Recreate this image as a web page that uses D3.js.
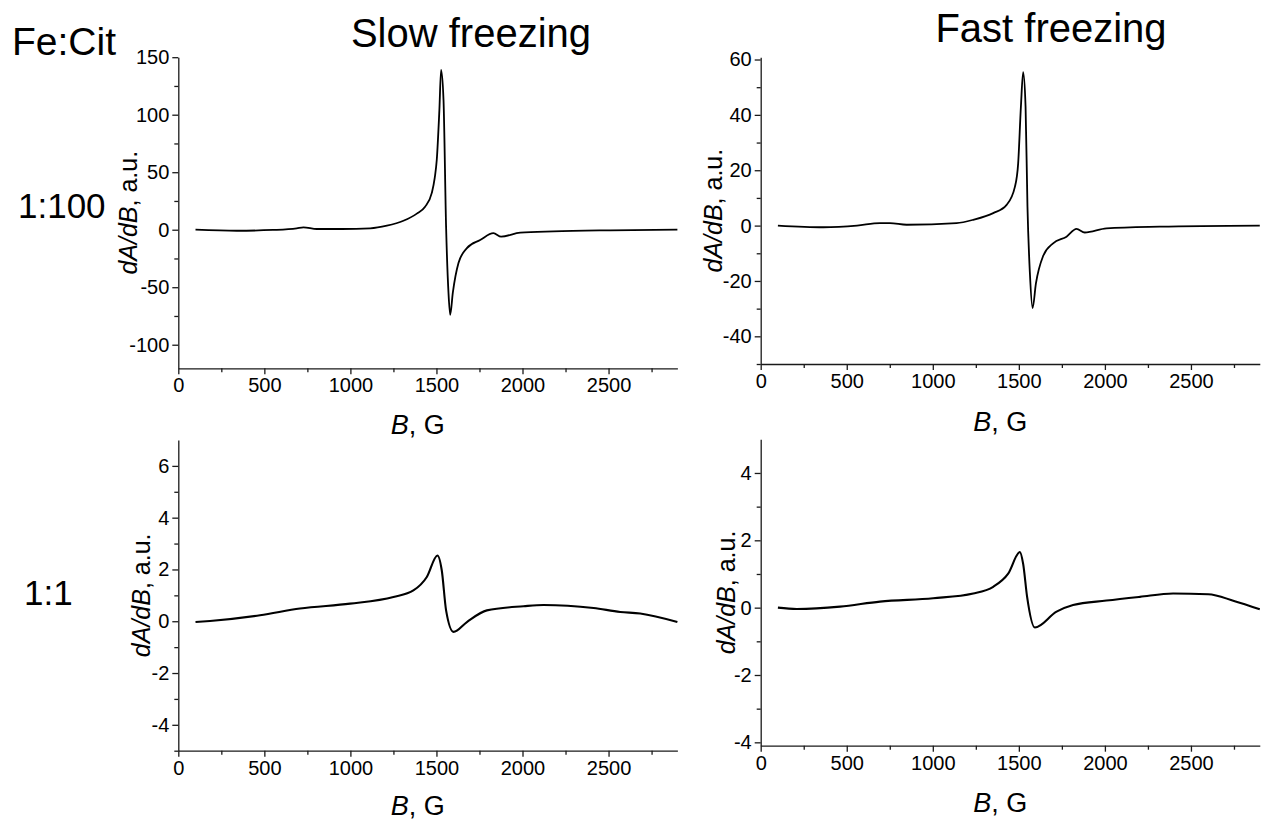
<!DOCTYPE html>
<html>
<head>
<meta charset="utf-8">
<script src="https://cdn.jsdelivr.net/npm/d3@7"></script>
<style>
  body { margin: 0; background: #fff; }
  text { font-family: "Liberation Sans", Arial, sans-serif; fill: #000; }
</style>
</head>
<body>
<script>
// EPR spectra, Fe:Cit, [B (G), dA/dB (a.u.)]
var slow100 = [
  [100, 0], [340, -0.9], [550, -0.2], [688, 1.2], [727, 2.1], [805, 0.6], [950, 0.6], [1115, 1.2],
  [1212, 3.5], [1308, 7.8], [1386, 14], [1434, 20], [1473, 32], [1490, 45], [1502, 61],
  [1517, 104], [1527, 139], [1541, 113], [1556, 2.6], [1570, -55], [1580, -74],
  [1595, -55], [1628, -29], [1677, -16], [1754, -9], [1831, -3], [1876, -6],
  [1987, -2.6], [2180, -1.4], [2510, -0.5], [2900, 0]
];
var fast100 = [
  [100, 0], [364, -0.6], [560, 0], [693, 0.9], [751, 0.9], [848, 0.3], [1138, 0.9],
  [1235, 2.1], [1351, 4.5], [1429, 7.5], [1477, 14], [1496, 22.5], [1512, 43],
  [1525, 55.4], [1539, 43], [1550, 7], [1564, -17], [1580, -29.8], [1599, -21],
  [1641, -11], [1699, -6.4], [1777, -4], [1835, -1.2], [1883, -2.5], [2009, -1],
  [2319, -0.4], [2900, 0]
];
var slow1 = [
  [100, -0.03], [184, 0.01], [475, 0.23], [707, 0.49], [998, 0.68], [1250, 0.94],
  [1366, 1.19], [1444, 1.71], [1506, 2.54], [1531, 1.96], [1556, 0.42], [1599, -0.41],
  [1677, -0.03], [1793, 0.42], [2006, 0.58], [2122, 0.63], [2413, 0.51], [2568, 0.36],
  [2684, 0.3], [2900, -0.03]
];
var fast1 = [
  [100, 0], [209, -0.04], [461, 0.03], [693, 0.18], [1002, 0.28], [1235, 0.42],
  [1351, 0.62], [1438, 1.01], [1506, 1.65], [1525, 1.3], [1548, 0.32], [1593, -0.59],
  [1719, -0.12], [1815, 0.08], [2009, 0.21], [2203, 0.32], [2396, 0.42], [2600, 0.4],
  [2750, 0.2], [2900, -0.05]
];

var xTicks = [0, 500, 1000, 1500, 2000, 2500];
var yTicksSlow100 = [-100, -50, 0, 50, 100, 150];
var yTicksFast100 = [-40, -20, 0, 20, 40, 60];
var yTicksSlow1 = [-4, -2, 0, 2, 4, 6];
var yTicksFast1 = [-4, -2, 0, 2, 4];

var panels = [
  { data: slow100, left: 178.3, top: 57.2, bottom: 368.3, yDom: [-120.5, 150], yTicks: yTicksSlow100, yMinor: 25, ylabX: 137, xlabY: 434, sw: 1.8 },
  { data: fast100, left: 760.7, top: 57.3, bottom: 364,   yDom: [-50, 60.8],   yTicks: yTicksFast100, yMinor: 10, ylabX: 722, xlabY: 431, sw: 1.8 },
  { data: slow1,   left: 178.3, top: 440,  bottom: 750.7, yDom: [-5, 7],       yTicks: yTicksSlow1,   yMinor: 1,  ylabX: 150, xlabY: 815, sw: 2.1 },
  { data: fast1,   left: 760.7, top: 439.3, bottom: 745.7, yDom: [-4.1, 5],    yTicks: yTicksFast1,   yMinor: 1,  ylabX: 735, xlabY: 812, sw: 2.1 }
];

var W = 1263, H = 823;
var svg = d3.select("body").append("svg")
  .attr("width", W)
  .attr("height", H);

var fmt = function(d) { return String(d); };

panels.forEach(function(p) {
  var x = d3.scaleLinear().domain([0, 2900]).range([p.left, p.left + 2900 * 0.1721]);
  var y = d3.scaleLinear().domain(p.yDom).range([p.bottom, p.top]);

  var xMinor = d3.range(250, 2900, 500);
  var yMinor = d3.range(Math.ceil(p.yDom[0] / p.yMinor) * p.yMinor, p.yDom[1], p.yMinor)
    .filter(function(v) { return p.yTicks.indexOf(v) < 0; });

  // minor ticks
  svg.append("g")
    .attr("transform", "translate(0," + p.bottom + ")")
    .call(d3.axisBottom(x).tickValues(xMinor).tickSize(4).tickSizeOuter(0).tickFormat(""))
    .call(function(g) { g.select(".domain").remove(); g.selectAll("line").attr("stroke", "#1a1a1a").attr("stroke-width", 1.3); });
  svg.append("g")
    .attr("transform", "translate(" + p.left + ",0)")
    .call(d3.axisLeft(y).tickValues(yMinor).tickSize(4).tickSizeOuter(0).tickFormat(""))
    .call(function(g) { g.select(".domain").remove(); g.selectAll("line").attr("stroke", "#1a1a1a").attr("stroke-width", 1.3); });

  // major axes
  var gx = svg.append("g")
    .attr("transform", "translate(0," + p.bottom + ")")
    .call(d3.axisBottom(x).tickValues(xTicks).tickSize(6).tickSizeOuter(0).tickPadding(4).tickFormat(fmt));
  var gy = svg.append("g")
    .attr("transform", "translate(" + p.left + ",0)")
    .call(d3.axisLeft(y).tickValues(p.yTicks).tickSize(6).tickSizeOuter(0).tickPadding(3).tickFormat(fmt));

  [gx, gy].forEach(function(g) {
    g.selectAll("text")
      .style("font-family", "'Liberation Sans', Arial, sans-serif")
      .style("font-size", "20px")
      .attr("fill", "#000");
    g.selectAll("line, path").attr("stroke", "#1a1a1a").attr("stroke-width", 1.3);
  });

  svg.append("path")
    .datum(p.data)
    .attr("fill", "none")
    .attr("stroke", "#000")
    .attr("stroke-width", p.sw)
    .attr("stroke-linejoin", "round")
    .attr("d", d3.line()
      .x(function(d) { return x(d[0]); })
      .y(function(d) { return y(d[1]); })
      .curve(d3.curveMonotoneX));

  // axis titles
  var xl = svg.append("text")
    .attr("x", (p.left + x(2900)) / 2 - 10)
    .attr("y", p.xlabY)
    .attr("text-anchor", "middle")
    .style("font-size", "27px");
  xl.append("tspan").style("font-style", "italic").text("B");
  xl.append("tspan").text(", G");

  var yl = svg.append("text")
    .attr("transform", "translate(" + p.ylabX + "," + (p.top + p.bottom) / 2 + ")rotate(-90)")
    .attr("text-anchor", "middle")
    .style("font-size", "25px");
  yl.append("tspan").style("font-style", "italic").text("dA/dB");
  yl.append("tspan").text(", a.u.");
});

// headings
svg.append("text").attr("x", 12).attr("y", 55).style("font-size", "39px").text("Fe:Cit");
svg.append("text").attr("x", 471).attr("y", 47).attr("text-anchor", "middle").style("font-size", "40px").text("Slow freezing");
svg.append("text").attr("x", 1051).attr("y", 42).attr("text-anchor", "middle").style("font-size", "40px").text("Fast freezing");
svg.append("text").attr("x", 18).attr("y", 218).style("font-size", "35px").text("1:100");
svg.append("text").attr("x", 24).attr("y", 605).style("font-size", "35px").text("1:1");
</script>
</body>
</html>
